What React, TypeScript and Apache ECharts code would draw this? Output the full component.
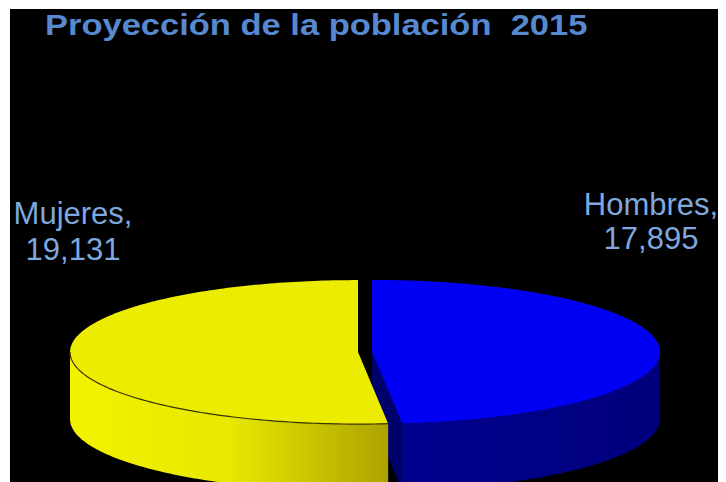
import React, { useEffect, useRef } from "react";
import * as echarts from "echarts";

const titleText = "Proyección de la población  2015";
const categories = ["Hombres", "Mujeres"];
const values = [17895, 19131];
const topColors = ["#0000f4", "#ecec00"];
const sideColors = [
  ["#00008e", "#00007c"],
  ["#f2f200", "#e8e800", "#aca300"],
];
const faceColors = ["#00006a", "#8a8400"];
const labelColor = "#7ea8de";
const labelX = [651, 73];
const labelBase = [
  [213, 247],
  [222, 258],
];

const CX = 355;
const CY = 343;
const RX = 288;
const RY = 72;
const DEPTH = 67;
const EXPLODE = 7;

export default function App() {
  const ref = useRef<HTMLDivElement>(null);
  useEffect(() => {
    if (!ref.current) return;
    const chart = echarts.init(ref.current, null, { renderer: "svg" });
    const total = values.reduce((a, b) => a + b, 0);
    const starts: number[] = [];
    let acc = 0;
    values.forEach((v) => {
      starts.push(acc);
      acc += v;
    });

    const renderItem = (params: any, api: any) => {
      const i = params.dataIndex;
      const v = api.value(0);
      const t0 = (starts[i] / total) * Math.PI * 2;
      const t1 = t0 + (v / total) * Math.PI * 2;
      const mid = (t0 + t1) / 2;
      const cx = CX + EXPLODE * Math.sin(mid);
      const cy = CY - EXPLODE * (RY / RX) * Math.cos(mid);
      const pt = (t: number, dy = 0) => [cx + RX * Math.sin(t), cy - RY * Math.cos(t) + dy];
      const arc = (a: number, b: number, dy = 0) => {
        const pts: number[][] = [];
        const n = Math.max(2, Math.ceil(Math.abs(b - a) / (Math.PI / 180)));
        for (let k = 0; k <= n; k++) pts.push(pt(a + ((b - a) * k) / n, dy));
        return pts;
      };
      const zb = i * 10;
      const children: any[] = [];
      if (Math.sin(t1) > 0.001) {
        const e = pt(t1);
        children.push({
          type: "polygon",
          z2: zb + 1,
          shape: { points: [[cx, cy], e, [e[0], e[1] + DEPTH], [cx, cy + DEPTH]] },
          style: { fill: faceColors[i] },
        });
      }
      if (-Math.sin(t0) > 0.001) {
        const e = pt(t0);
        children.push({
          type: "polygon",
          z2: zb + 1,
          shape: { points: [[cx, cy], e, [e[0], e[1] + DEPTH], [cx, cy + DEPTH]] },
          style: { fill: faceColors[i] },
        });
      }
      const s0 = Math.max(t0, Math.PI / 2);
      const s1 = Math.min(t1, (Math.PI * 3) / 2);
      if (s1 > s0) {
        const topEdge = arc(s0, s1);
        const botEdge = arc(s1, s0, DEPTH);
        const cs = sideColors[i];
        children.push({
          type: "polygon",
          z2: zb + 2,
          shape: { points: topEdge.concat(botEdge) },
          style: {
            fill: new echarts.graphic.LinearGradient(
              0,
              0,
              1,
              0,
              cs.map((c, k) => ({ offset: k / (cs.length - 1), color: c }))
            ),
          },
        });
        if (i === 1) {
          children.push({
            type: "polyline",
            z2: zb + 4,
            shape: { points: topEdge },
            style: { stroke: "#3b3600", lineWidth: 1.2, fill: null },
          });
        }
      }
      children.push({
        type: "polygon",
        z2: zb + 3,
        shape: { points: [[cx, cy]].concat(arc(t0, t1)) },
        style: { fill: topColors[i] },
      });
      const name = categories[i] + ",";
      const num = v.toLocaleString("en-US");
      [name, num].forEach((txt, k) => {
        children.push({
          type: "text",
          z2: 50,
          x: labelX[i] - 10,
          y: labelBase[i][k] - 9 + 7,
          style: {
            text: txt,
            fill: labelColor,
            font: "31px 'Liberation Sans', Arial, sans-serif",
            align: "center",
            verticalAlign: "bottom",
          },
        });
      });
      return { type: "group", children };
    };

    chart.setOption({
      animation: false,
      backgroundColor: "#000000",
      graphic: [
        {
          type: "text",
          x: 35,
          y: 16,
          scaleX: 1.15,
          style: {
            text: titleText,
            fill: "#5689cf",
            font: "bold 30px 'Liberation Sans', Arial, sans-serif",
            lineHeight: 30,
            align: "left",
            verticalAlign: "middle",
          },
        },
      ],
      series: [
        {
          type: "custom",
          coordinateSystem: "none",
          renderItem,
          data: values.map((v, i) => [v, i]),
          silent: true,
        },
      ],
    });
    return () => chart.dispose();
  }, []);
  return (
    <div
      ref={ref}
      style={{ width: 716, height: 473, marginLeft: 2, marginTop: 1 }}
    />
  );
}
